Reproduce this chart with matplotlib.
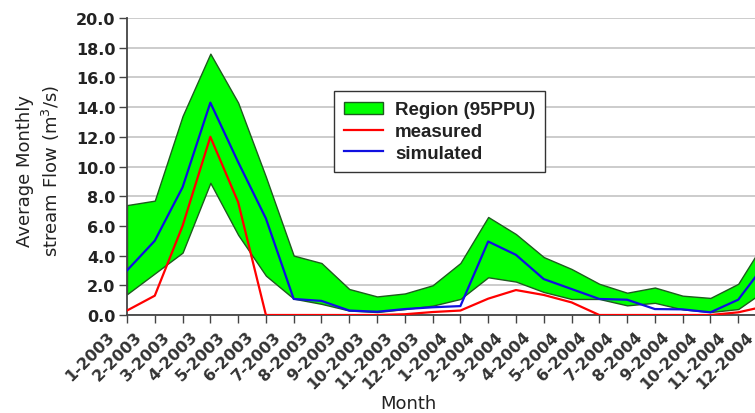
import matplotlib
matplotlib.use("Agg")
import matplotlib.pyplot as plt
import matplotlib.transforms as mtransforms
import numpy as np

months = ['1-2003', '2-2003', '3-2003', '4-2003', '5-2003', '6-2003',
          '7-2003', '8-2003', '9-2003', '10-2003', '11-2003', '12-2003',
          '1-2004', '2-2004', '3-2004', '4-2004', '5-2004', '6-2004',
          '7-2004', '8-2004', '9-2004', '10-2004', '11-2004', '12-2004']

upper_95ppu = [7.4, 7.7, 13.4, 17.6, 14.3, 9.3, 4.0, 3.5, 1.75, 1.25, 1.45, 2.0,
               3.5, 6.6, 5.45, 3.9, 3.1, 2.1, 1.5, 1.85, 1.3, 1.15, 2.1, 5.1]
lower_95ppu = [1.4, 2.8, 4.2, 8.9, 5.4, 2.65, 1.1, 0.75, 0.3, 0.2, 0.4, 0.63,
               1.08, 2.54, 2.25, 1.55, 1.08, 1.08, 0.65, 0.82, 0.38, 0.2, 0.4, 1.7]
measured = [0.3, 1.3, 6.0, 12.0, 7.6, 0.0, 0.0, 0.0, 0.0, 0.0, 0.05, 0.2,
            0.3, 1.1, 1.68, 1.35, 0.85, 0.0, 0.0, 0.0, 0.0, 0.0, 0.18, 0.6]
simulated = [3.0, 5.0, 8.6, 14.3, 10.3, 6.5, 1.08, 0.95, 0.3, 0.22, 0.4, 0.52,
             0.6, 4.95, 4.05, 2.42, 1.75, 1.08, 1.03, 0.4, 0.38, 0.18, 1.03, 3.5]

yticks = np.arange(0, 20.01, 2.0)

W, H = 755, 414
fig = plt.figure(figsize=(W / 100, H / 100), dpi=100)
fig.patch.set_facecolor('white')
ax = fig.add_axes([127 / W, 98 / H, 639 / W, 297 / H])

x = np.arange(len(months))
ax.fill_between(x, lower_95ppu, upper_95ppu, facecolor='#00FF00',
                edgecolor='#1E5B1E', linewidth=1.0, label='Region (95PPU)', zorder=2)
ax.plot(x, measured, color='#FF0000', linewidth=1.6, label='measured', zorder=3)
ax.plot(x, simulated, color='#1010E0', linewidth=1.6, label='simulated', zorder=4)

ax.set_xlim(0, len(months) - 1)
ax.set_ylim(0, 20)
ax.tick_params(axis='both', direction='out', length=5.5, width=1.0,
               color='#444444', pad=3)
ax.set_yticks(yticks)
ax.set_yticklabels([f'{v:.1f}' for v in yticks])
ax.set_xticks(x)
ax.set_xticklabels(months, rotation=45, ha='right')

for lab in ax.get_yticklabels():
    lab.set_fontfamily('DejaVu Sans')
    lab.set_fontweight('bold')
    lab.set_fontsize(11.5)
    lab.set_color('#222222')
shift = mtransforms.ScaledTranslation(-10 / 100, -2 / 100, fig.dpi_scale_trans)
for lab in ax.get_xticklabels():
    lab.set_fontfamily('DejaVu Sans')
    lab.set_fontweight('bold')
    lab.set_fontsize(11.5)
    lab.set_color('#333333')
    lab.set_transform(lab.get_transform() + shift)

ax.grid(axis='y', color='#C8C8C8', linewidth=1.3, zorder=0)
ax.set_axisbelow(True)
for s in ['top', 'right']:
    ax.spines[s].set_visible(False)
for s in ['left', 'bottom']:
    ax.spines[s].set_color('#444444')
    ax.spines[s].set_linewidth(1.3)

leg = ax.legend(loc='upper left', bbox_to_anchor=(334 / W, 1 - 92 / H),
                bbox_transform=fig.transFigure, borderaxespad=0,
                frameon=True, fancybox=False, framealpha=1,
                edgecolor='#333333', handlelength=2.05, handleheight=0.6,
                handletextpad=0.65, labelspacing=0.25, borderpad=0.55,
                prop={'family': 'Liberation Sans', 'weight': 'bold', 'size': 13.5})
leg.get_frame().set_linewidth(1.0)
for t in leg.get_texts():
    t.set_color('#222222')

fig.text(39 / W, 1 - 171 / H, 'Average Monthly\nstream Flow (m$^3$/s)',
         rotation=90, ha='center', va='center', multialignment='center',
         fontsize=13, family='DejaVu Sans', color='#222222', linespacing=1.3)
fig.text(408 / W, 1 - 404 / H, 'Month', ha='center', va='center',
         fontsize=13, family='DejaVu Sans', color='#222222')

fig.savefig('out.png', dpi=100, facecolor='white')
